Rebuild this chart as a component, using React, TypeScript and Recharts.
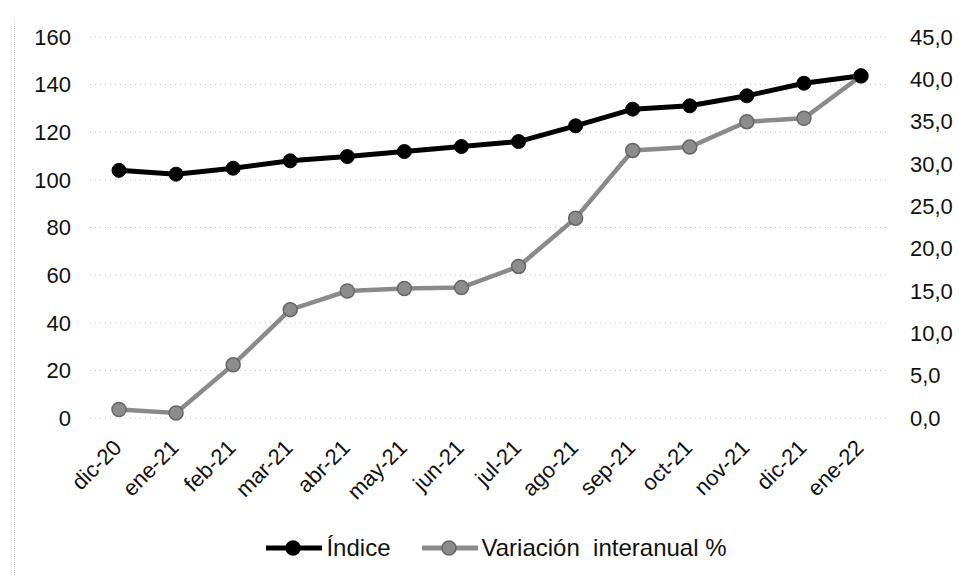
import React from 'react'
import { LineChart, CartesianGrid, XAxis, YAxis, Legend, Line } from 'recharts'

// meses (eje X)
const months = ['dic-20', 'ene-21', 'feb-21', 'mar-21', 'abr-21', 'may-21', 'jun-21', 'jul-21', 'ago-21', 'sep-21', 'oct-21', 'nov-21', 'dic-21', 'ene-22']
const indice = [104, 102.4, 104.9, 108, 109.8, 111.9, 114, 116.1, 122.7, 129.7, 131.1, 135.3, 140.6, 143.7]
const variacion = [1.0, 0.6, 6.3, 12.8, 15.0, 15.3, 15.4, 17.9, 23.6, 31.6, 32.0, 35.0, 35.4, 40.4]

const leftTicks = [0, 20, 40, 60, 80, 100, 120, 140, 160]
const rightTicks = [0, 5, 10, 15, 20, 25, 30, 35, 40, 45]

const data = months.map((m, i) => ({ name: m, indice: indice[i], variacion: variacion[i] }))

const FONT = '"Liberation Sans", Arial, sans-serif'

const MonthTick = (props: any) => {
    const { x, y, payload } = props
    return (
        <g transform={`translate(${x + 4},${y + 31})`}>
            <text x={0} y={0} textAnchor='end' transform='rotate(-45)' fontSize={22} fontFamily={FONT} fill='#111'>
                {payload.value}
            </text>
        </g>
    )
}

const LegendIcon = ({ color, dot }: { color: string, dot: string }) => (
    <svg width={56} height={18} style={{ display: 'block' }}>
        <line x1={0} y1={9} x2={56} y2={9} stroke={color} strokeWidth={5} />
        <circle cx={27} cy={9} r={7} fill={color} stroke={dot} strokeWidth={1.5} />
    </svg>
)

const ChartLegend = () => (
    <div style={{ display: 'flex', justifyContent: 'center', alignItems: 'center', height: 40, fontFamily: FONT, fontSize: 24, color: '#111', paddingLeft: 34 }}>
        <LegendIcon color='#000' dot='#000' />
        <span style={{ marginLeft: 4, marginRight: 31 }}>Índice</span>
        <LegendIcon color='#8a8a8a' dot='#666' />
        <span style={{ marginLeft: 4, whiteSpace: 'pre' }}>Variación  interanual %</span>
    </div>
)

export default function App() {
    const fmtRight = (v: number) => v.toFixed(1).replace('.', ',')
    return (
        <div style={{ position: 'absolute', left: 0, top: 0, width: 959, height: 587, background: '#fff' }}>
            <div style={{ position: 'absolute', left: 14, top: 20, height: 555, borderLeft: '1px dotted #d0d0d0' }} />
            <LineChart width={959} height={587} data={data} margin={{ top: 37, right: 0, bottom: 0, left: 0 }}>
                <CartesianGrid yAxisId='left' vertical={false} stroke='#c4c4c4' strokeDasharray='1 4' />
                <XAxis dataKey='name' axisLine={false} tickLine={false} tickSize={0} tickMargin={0}
                    height={129} interval={0} padding={{ left: 29, right: 29 }} tick={<MonthTick />} />
                <YAxis yAxisId='left' orientation='left' width={90} domain={[0, 160]} ticks={leftTicks}
                    axisLine={false} tickLine={false} tickSize={0} tickMargin={19}
                    tick={{ fontSize: 22, fontFamily: FONT, fill: '#111' }} />
                <YAxis yAxisId='right' orientation='right' width={69} domain={[0, 45]} ticks={rightTicks}
                    axisLine={false} tickLine={false} tickSize={0} tickMargin={20} tickFormatter={fmtRight}
                    tick={{ fontSize: 22, fontFamily: FONT, fill: '#111', textAnchor: 'start' }} />
                <Legend verticalAlign='bottom' content={<ChartLegend />} wrapperStyle={{ bottom: 19, left: 0, width: 959 }} />
                <Line yAxisId='right' type='linear' dataKey='variacion' name='Variación  interanual %' stroke='#8a8a8a' strokeWidth={4.5}
                    dot={{ r: 7, fill: '#8c8c8c', stroke: '#666', strokeWidth: 1.5 }} isAnimationActive={false} />
                <Line yAxisId='left' type='linear' dataKey='indice' name='Índice' stroke='#000' strokeWidth={5}
                    dot={{ r: 7, fill: '#000', stroke: '#000', strokeWidth: 1 }} isAnimationActive={false} />
            </LineChart>
        </div>
    )
}
